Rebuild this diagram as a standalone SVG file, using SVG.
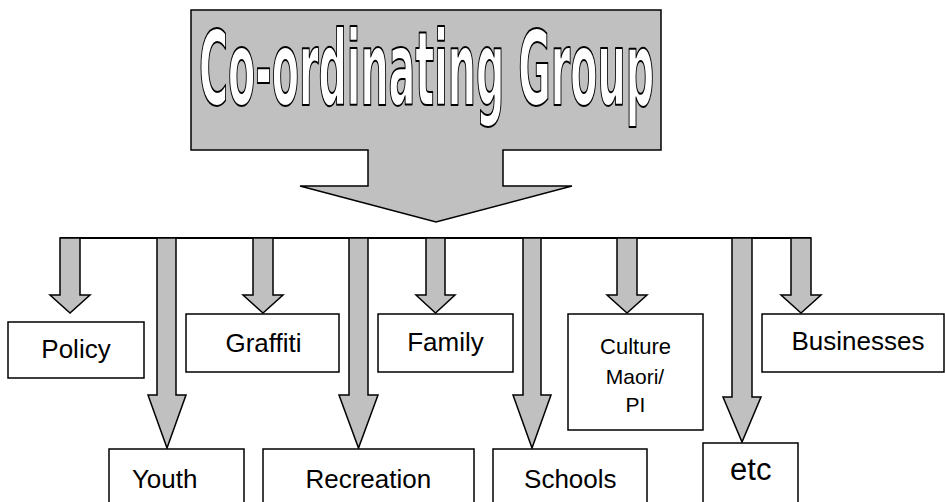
<svg xmlns="http://www.w3.org/2000/svg" width="945" height="502" viewBox="0 0 945 502">
<style>
.arr{fill:#c0c0c0;stroke:#000;stroke-width:1.5;stroke-linejoin:miter}
.box{fill:#fff;stroke:#000;stroke-width:1.5}
.lbl{font-family:"Liberation Sans",Arial,sans-serif;font-size:26px;fill:#000;text-anchor:middle}
.title{font-family:"DejaVu Sans Condensed","DejaVu Sans","Liberation Sans",sans-serif;font-weight:bold;font-size:103px;fill:#fff;stroke:#000;stroke-width:2;stroke-linejoin:round}
</style>
<rect width="945" height="502" fill="#fff"/>
<g id="coordinating-group">
<polygon class="arr" points="191,10 661,10 661,150 503,150 503,186 572,186 436,222 300,186 368,186 368,150 191,150"/>
<text class="title" x="199" y="105" textLength="455" lengthAdjust="spacingAndGlyphs">Co-ordinating Group</text>
</g>
<g id="connectors">
<line x1="60" y1="238" x2="811" y2="238" stroke="#000" stroke-width="2"/>
<polygon class="arr" points="60,238 80,238 80,295 90,295 70,313 50,295 60,295"/>
<polygon class="arr" points="253,238 273,238 273,295 283,295 263,313 243,295 253,295"/>
<polygon class="arr" points="426,238 445,238 445,295 455,295 435.5,313 416,295 426,295"/>
<polygon class="arr" points="617,238 637,238 637,295 647,295 627,313 607,295 617,295"/>
<polygon class="arr" points="791,238 811,238 811,295 821,295 801,313 781,295 791,295"/>
<polygon class="arr" points="157,238 176,238 176,395 186,395 167,448 148,395 157,395"/>
<polygon class="arr" points="349,238 368,238 368,395 378,395 358.5,448 339,395 349,395"/>
<polygon class="arr" points="523,238 541,238 541,395 551,395 532,448 513,395 523,395"/>
<polygon class="arr" points="732,238 752,238 752,397 761,397 742,442 723,397 732,397"/>
</g>
<g id="policy"><rect class="box" x="8" y="322" width="136" height="56"/><text class="lbl" x="76" y="358" font-size="25">Policy</text></g>
<g id="graffiti"><rect class="box" x="186" y="314" width="153" height="58"/><text class="lbl" x="263.5" y="352">Graffiti</text></g>
<g id="family"><rect class="box" x="378" y="314" width="135" height="58"/><text class="lbl" x="445.5" y="351">Family</text></g>
<g id="culture"><rect class="box" x="568" y="314" width="135" height="116"/><text class="lbl" x="635.5" y="354" style="font-size:22px">Culture</text><text class="lbl" x="635" y="384" style="font-size:21px">Maori/</text><text class="lbl" x="635.5" y="412" style="font-size:21px">PI</text></g>
<g id="businesses"><rect class="box" x="762" y="314" width="182" height="58"/><text class="lbl" x="858" y="350">Businesses</text></g>
<g id="youth"><rect class="box" x="109" y="449" width="135" height="62"/><text class="lbl" x="164.7" y="488">Youth</text></g>
<g id="recreation"><rect class="box" x="263" y="449" width="211" height="62"/><text class="lbl" x="368.3" y="488">Recreation</text></g>
<g id="schools"><rect class="box" x="493" y="449" width="154" height="62"/><text class="lbl" x="570.3" y="488">Schools</text></g>
<g id="etc"><rect class="box" x="703" y="443" width="95" height="68"/><text class="lbl" x="750.8" y="480" style="font-size:31px">etc</text></g>
</svg>
